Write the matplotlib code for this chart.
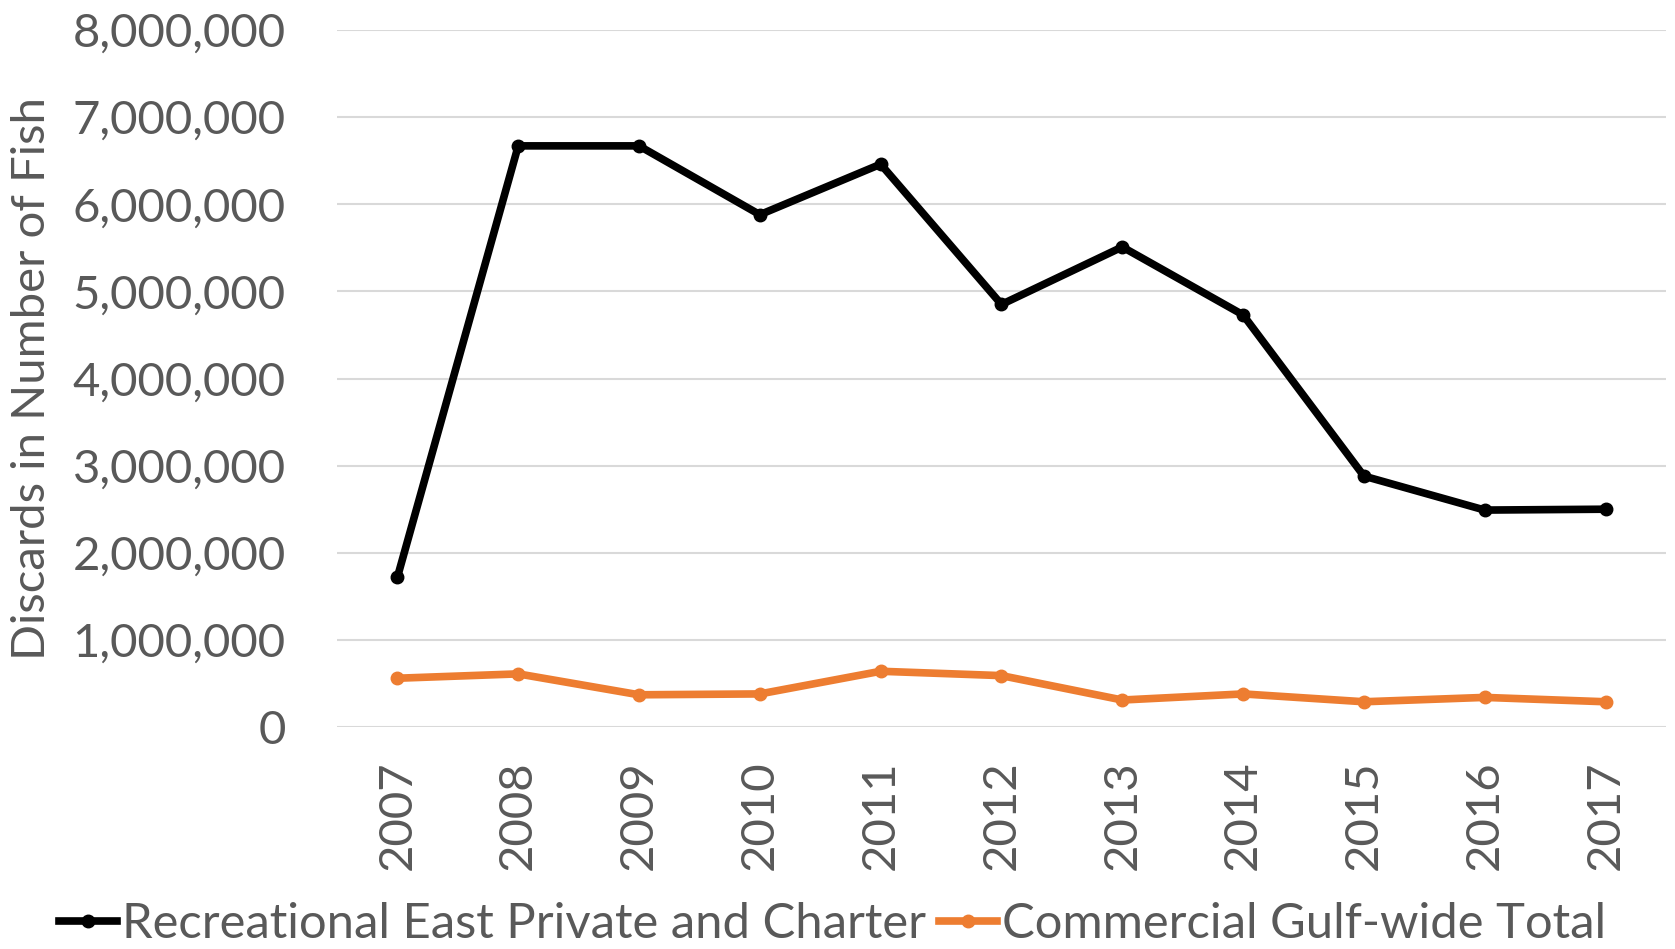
import matplotlib
matplotlib.use("Agg")
import matplotlib.pyplot as plt
from matplotlib.ticker import FuncFormatter

# values
years = ["2007", "2008", "2009", "2010", "2011", "2012",
         "2013", "2014", "2015", "2016", "2017"]
recreational = [1720000, 6670000, 6670000, 5880000, 6460000, 4850000,
                5510000, 4730000, 2880000, 2490000, 2500000]
commercial = [560000, 610000, 370000, 380000, 640000, 590000,
              310000, 380000, 290000, 340000, 290000]

plt.rcParams['font.family'] = ['Lato', 'DejaVu Sans']
grey = '#595959'
fs = 34

fig = plt.figure(figsize=(16.75, 9.49), dpi=100)
ax = fig.add_axes([0.2012, 0.2339, 0.7934, 0.7345])

x = range(len(years))
ax.plot(x, recreational, color='black', lw=5.5, marker='o', ms=9,
        label='Recreational East Private and Charter', zorder=3)
ax.plot(x, commercial, color='#ed7d31', lw=5.5, marker='o', ms=9,
        label='Commercial Gulf-wide Total', zorder=3)

ax.set_xlim(-0.5, len(years) - 0.5)
ax.set_ylim(0, 8000000)
ax.set_yticks(range(0, 8000001, 1000000))
ax.yaxis.set_major_formatter(FuncFormatter(lambda v, p: f"{int(v):,}"))
ax.set_xticks(list(x))
ax.set_xticklabels(years, rotation=90)

ax.grid(axis='y', color='#d9d9d9', lw=1.5)
ax.set_axisbelow(True)
for s in ax.spines.values():
    s.set_visible(False)
ax.tick_params(axis='both', length=0, labelsize=fs, colors=grey)
ax.tick_params(axis='y', pad=37)
ax.tick_params(axis='x', pad=24)

ax.set_ylabel('Discards in Number of Fish', fontsize=fs, color=grey)
ax.yaxis.set_label_coords(-0.2135, 0.5)

fig.legend(loc='center', bbox_to_anchor=(0.497, 0.026), ncol=2,
           frameon=False, fontsize=35.3, labelcolor=grey, handlelength=1.2,
           handletextpad=0.1, columnspacing=0.25)

fig.savefig('out.png', dpi=100)
